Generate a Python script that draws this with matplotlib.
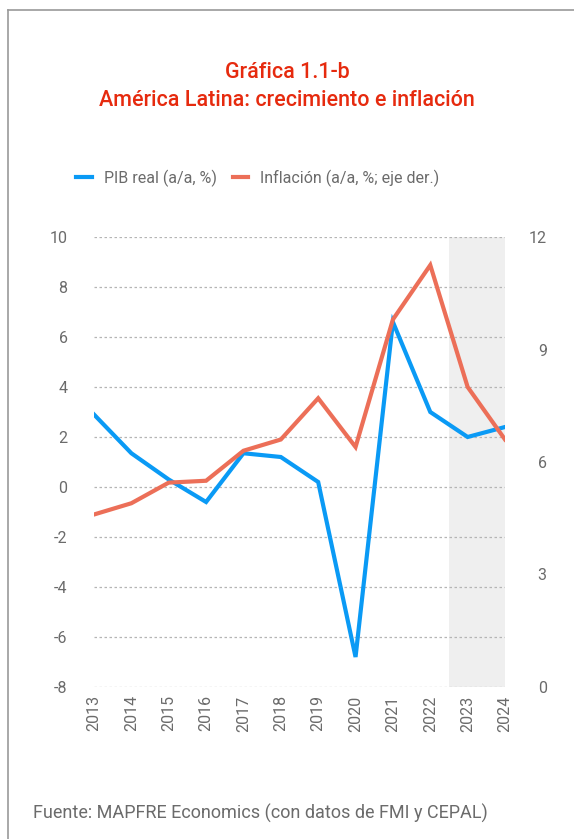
import matplotlib.pyplot as plt
from matplotlib.lines import Line2D

plt.rcParams['font.family'] = ['Roboto', 'DejaVu Sans']
plt.rcParams['axes.unicode_minus'] = False

years = [2013, 2014, 2015, 2016, 2017, 2018, 2019, 2020, 2021, 2022, 2023, 2024]
pib = [2.9, 1.35, 0.3, -0.6, 1.35, 1.2, 0.2, -6.8, 6.6, 3.0, 2.0, 2.4]
inflacion = [4.6, 4.9, 5.45, 5.5, 6.3, 6.6, 7.7, 6.4, 9.8, 11.25, 8.0, 6.6]
left_ticks = [-8, -6, -4, -2, 0, 2, 4, 6, 8, 10]
right_ticks = [0, 3, 6, 9, 12]

blue = '#0a9af5'
red = '#ec6f58'
grey = '#6b6b6b'

fig = plt.figure(figsize=(5.74, 8.39), dpi=100)

# marco
fig.add_artist(Line2D([8/574, 8/574], [0, 1 - 10/839], color='#9a9a9a', lw=1.2))
fig.add_artist(Line2D([8/574, 1], [1 - 10/839, 1 - 10/839], color='#9a9a9a', lw=1.2))

fig.text(0.5, 1 - 73/839, 'Gráfica 1.1-b', color='#e62a0e', fontsize=15.5,
         fontweight='medium', ha='center', va='center')
fig.text(0.5, 1 - 100/839, 'América Latina: crecimiento e inflación', color='#e62a0e',
         fontsize=15.5, fontweight='medium', ha='center', va='center')

ax = fig.add_axes([94/574, 1 - 687/839, (505 - 94)/574, 450/839])
ax2 = ax.twinx()

ax.axvspan(2022.5, 2024, color='#efefef', zorder=0, lw=0)
for t in left_ticks:
    ax.axhline(t, color='#b5b5b5', lw=0.9, ls=(0, (2, 2)), zorder=1)

ax.plot(years, pib, color=blue, lw=3, zorder=3, solid_joinstyle='miter')
ax2.plot(years, inflacion, color=red, lw=3, zorder=2, solid_joinstyle='miter')

ax.set_xlim(2013, 2024)
ax.set_ylim(-8, 10)
ax2.set_ylim(0, 12)
ax.set_yticks(left_ticks)
ax2.set_yticks(right_ticks)
ax.set_xticks(years)
ax.set_xticklabels([str(y) for y in years], rotation=90)

for a in (ax, ax2):
    for s in a.spines.values():
        s.set_visible(False)
    a.tick_params(length=0, labelsize=11.5, labelcolor=grey)
ax.tick_params(axis='y', pad=19)
ax2.tick_params(axis='y', pad=30)
for lbl in ax2.get_yticklabels():
    lbl.set_horizontalalignment('right')
ax.tick_params(axis='x', pad=6)

handles = [Line2D([], [], color=blue, lw=3), Line2D([], [], color=red, lw=3)]
fig.legend(handles, ['PIB real (a/a, %)', 'Inflación (a/a, %; eje der.)'],
           loc='center left', bbox_to_anchor=(62/574, 1 - 178/839), ncol=2, frameon=False,
           fontsize=11.5, labelcolor=grey, handlelength=1.0, handletextpad=0.7,
           columnspacing=1.0)

fig.text(33/574, 1 - 813/839, 'Fuente: MAPFRE Economics (con datos de FMI y CEPAL)',
         color=grey, fontsize=13, ha='left', va='center')

fig.savefig('out.png', dpi=100)
